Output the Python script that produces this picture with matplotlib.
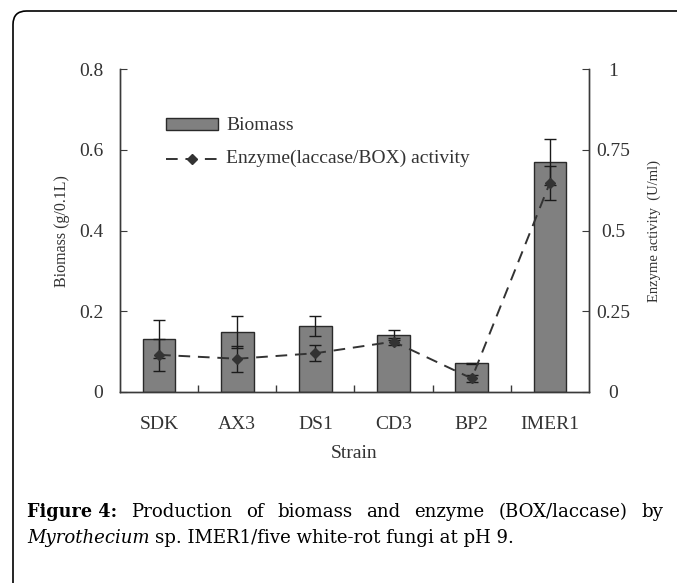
import matplotlib
matplotlib.use("Agg")
import matplotlib.pyplot as plt
from matplotlib.patches import FancyBboxPatch, Rectangle
from matplotlib.lines import Line2D
import numpy as np

strains = ["SDK", "AX3", "DS1", "CD3", "BP2", "IMER1"]
biomass = [0.131, 0.149, 0.163, 0.141, 0.071, 0.569]
biomass_err = [0.047, 0.039, 0.025, 0.012, 0.002, 0.057]
enzyme = [0.115, 0.103, 0.120, 0.156, 0.042, 0.648]
enzyme_err = [0.05, 0.04, 0.025, 0.012, 0.01, 0.053]

left_ticks = [0, 0.2, 0.4, 0.6, 0.8]
left_ticklabels = ["0", "0.2", "0.4", "0.6", "0.8"]
right_ticks = [0, 0.25, 0.5, 0.75, 1.0]
right_ticklabels = ["0", "0.25", "0.5", "0.75", "1"]

W, H = 677, 583
fig = plt.figure(figsize=(W / 100, H / 100), dpi=100)
plt.rcParams['font.family'] = ['Liberation Serif', 'DejaVu Serif']


def fx(px):
    return px / W


def fy(py):
    return 1 - py / H


# outer frame (only top/left edges visible)
frame = FancyBboxPatch((fx(13), fy(700)), fx(800), (700 - 11) / H,
                       boxstyle="round,pad=0,rounding_size=0.02",
                       transform=fig.transFigure, fill=False,
                       edgecolor="black", linewidth=1.2, mutation_aspect=W / H)
fig.patches.append(frame)

ax = fig.add_axes([fx(120), fy(392), fx(589) - fx(120), fy(69) - fy(392)])
ax2 = ax.twinx()

text_col = "#333333"
axis_col = "#3a3a3a"
bar_col = "#808080"
line_col = "#333333"
dash = (0, (6, 4))

x = np.arange(len(strains))
ax.bar(x, biomass, width=0.42, color=bar_col, edgecolor="#2a2a2a",
       linewidth=1.0, zorder=2)
ax.errorbar(x, biomass, yerr=biomass_err, fmt="none", ecolor="#1a1a1a",
            elinewidth=1.0, capsize=4, capthick=1.0, zorder=3)
ax2.errorbar(x, enzyme, yerr=enzyme_err, fmt="none", ecolor="#1a1a1a",
             elinewidth=1.0, capsize=4, capthick=1.0, zorder=3)
ax2.plot(x, enzyme, linestyle=dash, color=line_col, linewidth=1.4,
         marker="D", markersize=5.5, markerfacecolor=line_col, zorder=4)

ax.set_xlim(-0.5, len(strains) - 0.5)
ax.set_ylim(0, 0.8)
ax2.set_ylim(0, 1.0)

ax.set_yticks(left_ticks)
ax.set_yticklabels(left_ticklabels)
ax2.set_yticks(right_ticks)
ax2.set_yticklabels(right_ticklabels)
ax.set_xticks(x)
ax.set_xticklabels(strains)
ax.set_xticks(np.arange(0.5, len(strains) - 1, 1.0), minor=True)
ax.tick_params(axis="x", which="major", length=0, labelsize=14, pad=17,
               colors=text_col)
ax.tick_params(axis="x", which="minor", direction="in", length=5,
               color=axis_col, width=1.0)
ax.tick_params(axis="y", direction="in", length=5, labelsize=14, pad=12,
               color=axis_col, labelcolor=text_col)
ax2.tick_params(axis="y", direction="in", length=5, labelsize=14, pad=17.5,
                color=axis_col, labelcolor=text_col)
for lab in ax2.get_yticklabels():
    lab.set_horizontalalignment("center")

for a in (ax, ax2):
    a.spines["top"].set_visible(False)
    for s in ("left", "right", "bottom"):
        a.spines[s].set_color(axis_col)
        a.spines[s].set_linewidth(1.0)
    a.patch.set_visible(False)

fig.text(fx(62), fy(231), "Biomass (g/0.1L)", rotation=90,
         ha="center", va="center", fontsize=11.5, color=text_col)
fig.text(fx(654), fy(231), "Enzyme activity  (U/ml)", rotation=90,
         ha="center", va="center", fontsize=10.5, color=text_col)
fig.text(fx(354), fy(453), "Strain", ha="center", va="center",
         fontsize=14, color=text_col)

# legend drawn in figure pixel coordinates
fig.add_artist(Rectangle((fx(166), fy(130)), fx(218) - fx(166),
                         fy(118) - fy(130), transform=fig.transFigure,
                         facecolor=bar_col, edgecolor="#2a2a2a", linewidth=1.0))
fig.text(fx(226), fy(125), "Biomass", ha="left", va="center",
         fontsize=14, color=text_col)
fig.add_artist(Line2D([fx(166), fx(218)], [fy(159), fy(159)],
                      transform=fig.transFigure, linestyle=(0, (6, 4)),
                      color=line_col, linewidth=1.4))
fig.add_artist(Line2D([fx(192)], [fy(159)], transform=fig.transFigure,
                      marker="D", markersize=5.5, color=line_col,
                      linestyle="none"))
fig.text(fx(226), fy(158), "Enzyme(laccase/BOX) activity", ha="left",
         va="center", fontsize=14, color=text_col)

# caption
fig.canvas.draw()
renderer = fig.canvas.get_renderer()
cap_fam = ["DejaVu Serif"]
left_px, right_px = 27, 663
base1, base2 = 517, 543

# line 2, scaled to the reference width
it = fig.text(fx(left_px), fy(base2), "Myrothecium ", fontsize=12,
              style="italic", va="baseline", ha="left", family=cap_fam)
rest = fig.text(0, fy(base2), "sp. IMER1/five white-rot fungi at pH 9.",
                fontsize=12, va="baseline", ha="left", family=cap_fam)
w_tot = (it.get_window_extent(renderer).width
         + rest.get_window_extent(renderer).width)
fs = 12 * (512 - left_px) / w_tot
it.set_fontsize(fs)
rest.set_fontsize(fs)
w_it = it.get_window_extent(renderer).width
rest.set_x(fx(left_px + w_it))

# line 1, justified
words = ["Figure 4:", "Production", "of", "biomass", "and", "enzyme",
         "(BOX/laccase)", "by"]
objs = []
for i, w in enumerate(words):
    t = fig.text(0, fy(base1), w, fontsize=fs, va="baseline", ha="left",
                 fontweight="bold" if i == 0 else "normal", family=cap_fam,
                 color="black")
    objs.append(t)
w0 = objs[0].get_window_extent(renderer).width
objs[0].set_fontsize(fs * 90 / w0)
widths = [o.get_window_extent(renderer).width for o in objs]
gap = (right_px - left_px - sum(widths)) / (len(words) - 1)
pos = left_px
for o, wd in zip(objs, widths):
    o.set_x(fx(pos))
    pos += wd + gap

fig.savefig("out.png", dpi=100)
